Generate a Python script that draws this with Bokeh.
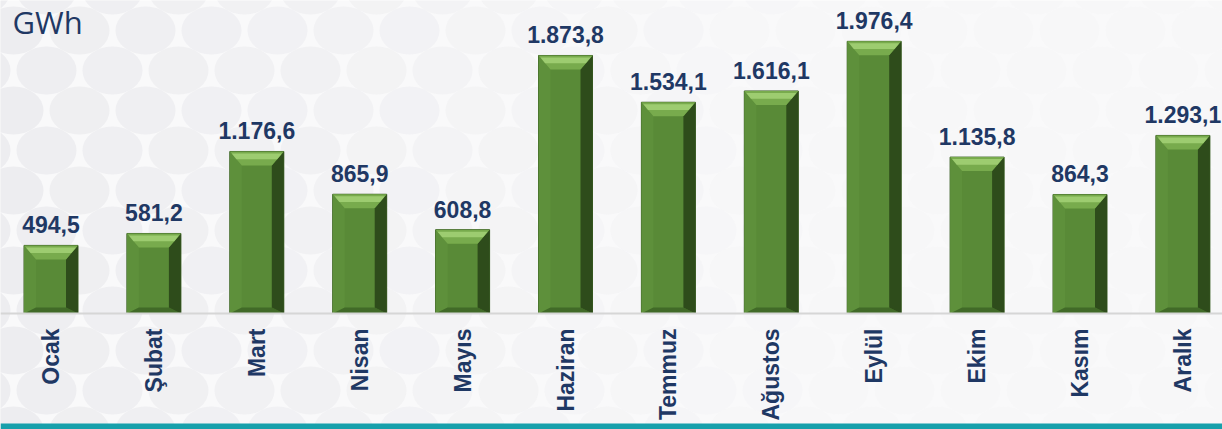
import numpy as np
from bokeh.plotting import figure
from bokeh.models import Range1d, Span, BoxAnnotation, ColumnDataSource
from bokeh.core.properties import value
from bokeh.embed import file_html
from bokeh.resources import INLINE

months = ["Ocak", "Şubat", "Mart", "Nisan", "Mayıs", "Haziran",
          "Temmuz", "Ağustos", "Eylül", "Ekim", "Kasım", "Aralık"]
values = [494.5, 581.2, 1176.6, 865.9, 608.8, 1873.8,
          1534.1, 1616.1, 1976.4, 1135.8, 864.3, 1293.1]
value_labels = ["494,5", "581,2", "1.176,6", "865,9", "608,8", "1.873,8",
                "1.534,1", "1.616,1", "1.976,4", "1.135,8", "864,3", "1.293,1"]
unit_label = "GWh"

W, H = 1222, 429
px_x = 102.9          # pixels per category
px_y = 0.1377         # pixels per GWh
base_px = 313         # baseline from top
x0 = -50.5 / px_x
x1 = x0 + W / px_x
y1 = base_px / px_y
y0 = -(H - base_px) / px_y

p = figure(width=W, height=H, output_backend="svg", toolbar_location=None,
           x_range=Range1d(x0, x1), y_range=Range1d(y0, y1),
           min_border=0, background_fill_color="#f9f9fa",
           border_fill_color="#f9f9fa", outline_line_color=None)
p.axis.visible = False
p.grid.visible = False

# decorative background pattern of soft ellipses
ex, ey, ea = [], [], []
row = 0
for sy in np.arange(-10, H + 40, 40):
    off = 0 if row % 2 == 0 else 33
    for sx in np.arange(-20 + off, W + 60, 66):
        ex.append(x0 + sx / px_x)
        ey.append(y1 - sy / px_y)
        ea.append(max(0.1, 1.0 - sx / 900.0))
    row += 1
p.ellipse(x=ex, y=ey, width=60, height=48, width_units="screen",
          height_units="screen", fill_color="#ededf0", fill_alpha=ea,
          line_color=None)

# axis line
p.add_layout(Span(location=0, dimension="width", line_color="#d6d6d6", line_width=2))

# bars with bevel
xs = np.arange(len(months))
hw = 27 / px_x
bw = 12 / px_x
bh = 14 / px_y
bb = 6 / px_y
main_x, main_y, top_x, top_y, right_x, right_y = [], [], [], [], [], []
left_x, left_y, bot_x, bot_y, hl_x, hl_y = [], [], [], [], [], []
for c, t in zip(xs, values):
    l, r = c - hw, c + hw
    main_x.append([l, r, r, l]); main_y.append([0, 0, t, t])
    top_x.append([l, r, r - bw, l + bw]); top_y.append([t, t, t - bh, t - bh])
    hl_x.append([l + 2 / px_x, r - 2 / px_x, r - bw * 0.55, l + bw * 0.55])
    hl_y.append([t - 2 / px_y, t - 2 / px_y, t - bh * 0.55, t - bh * 0.55])
    right_x.append([r, r, r - bw, r - bw]); right_y.append([t, 0, bb, t - bh])
    left_x.append([l, l + bw, l + bw, l]); left_y.append([t, t - bh, bb, 0])
    bot_x.append([l, r, r - bw, l + bw]); bot_y.append([0, 0, bb, bb])

p.patches(main_x, main_y, fill_color="#598a37", line_color="#3a5e23", line_width=1)
p.patches(left_x, left_y, fill_color="#5e903b", line_color=None)
p.patches(bot_x, bot_y, fill_color="#416a28", line_color=None)
p.patches(right_x, right_y, fill_color="#2e4c1b", line_color=None)
p.patches(top_x, top_y, fill_color="#78ab4d", line_color=None)
p.patches(hl_x, hl_y, fill_color="#a3d177", fill_alpha=0.85, line_color=None)

# value labels
src = ColumnDataSource(dict(x=xs, y=[v + 12 / px_y for v in values], t=value_labels))
p.text(x="x", y="y", text="t", source=src, text_align="center",
       text_baseline="bottom", text_font=value("Liberation Sans"),
       text_font_style="bold", text_font_size="23px", text_color="#1f3864")

# month labels (rotated)
src2 = ColumnDataSource(dict(x=xs, y=[-15 / px_y] * len(xs), t=months))
p.text(x="x", y="y", text="t", source=src2, angle=np.pi / 2,
       text_align="right", text_baseline="middle",
       text_font=value("Liberation Sans"), text_font_style="bold",
       text_font_size="23px", text_color="#1f3864")

# unit label
p.text(x=[x0 + 12 / px_x], y=[y1], text=[unit_label], text_align="left",
       text_baseline="top", text_font=value("Open Sans"),
       text_font_size="31px", text_color="#1f3864")

# teal bottom stripe
p.add_layout(BoxAnnotation(bottom=y0, top=y0 + 6 / px_y, fill_color="#17a0ab",
                           fill_alpha=1.0, line_color=None))

open("out.html", "w").write(file_html(p, INLINE))
